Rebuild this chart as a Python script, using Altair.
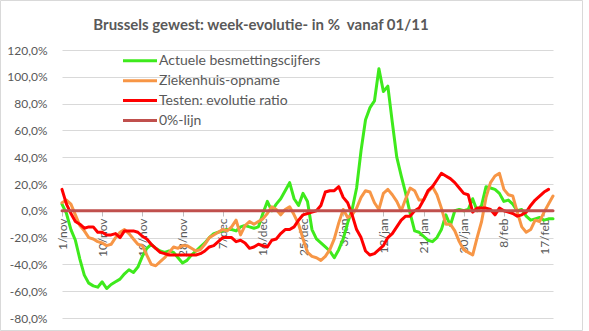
import altair as alt
import pandas as pd

TITLE = "Brussels gewest: week-evolutie- in % \u00a0vanaf 01/11"
series_names = ["Actuele besmettingscijfers", "Ziekenhuis-opname", "Testen: evolutie ratio", "0%-lijn"]
series_colors = ["#3EEA1C", "#F79646", "#FF0000", "#C0504D"]

tick_days = [0, 9, 18, 27, 36, 45, 54, 63, 72, 81, 90, 99, 108]
tick_labels = ["1/nov", "10/nov", "19/nov", "28/nov", "7/dec", "16/dec", "25/dec",
               "3/jan", "12/jan", "21/jan", "30/jan", "8/feb", "17/feb"]
y_ticks = [-80, -60, -40, -20, 0, 20, 40, 60, 80, 100, 120]

green = [5, -2, -14, -22, -36, -48, -54, -56, -57, -53,
         -58, -55, -53, -51, -47, -44, -46, -42, -34, -28,
         -25, -28, -30, -31, -30, -31, -35, -39, -37, -33,
         -30, -27, -24, -20, -17, -16, -15, -14, -14, -15,
         -12, -11, -12, -13, -12, -2, 7, 0, 5, 9,
         15, 21, 9, 4, 13, 7, -14, -21, -24, -27,
         -30, -35, -29, -21, -9, 1, 17, 45, 68, 77,
         82, 106, 89, 93, 66, 40, 26, 13, -2, -15,
         -16, -19, -22, -23, -20, -14, -3, -11, 0, 1,
         0, 1, 9, 0, 4, 18, 17, 16, 13, 7,
         8, 5, 0, 1, -4, -7, -6, -5, -7, -6, -6]

orange = [6, 8, 5, -3, -11, -15, -20, -21, -23, -24,
          -26, -25, -20, -16, -14, -17, -21, -25, -26, -33,
          -40, -41, -38, -35, -31, -27, -28, -26, -26, -28,
          -30, -29, -25, -20, -18, -16, -14, -15, -12, -7,
          -18, -11, -8, -10, -8, -6, -2, 3, 1, -3,
          1, 3, -3, -10, -21, -31, -34, -35, -37, -34,
          -29, -21, -9, 1, -5, -3, 2, 10, 15, 14,
          6, 1, 13, 16, 12, 7, 0, 9, 17, 15,
          8, 8, 14, 18, 12, 2, -10, -10, -15, -23,
          -29, -31, -33, -20, -8, 10, 21, 26, 28, 16,
          12, 11, -1, -12, -16, -14, -7, -8, -1, 5, 11]

red = [16, 5, -2, -8, -10, -13, -12, -12, -16, -16,
       -18, -18, -17, -20, -15, -15, -15, -16, -19, -21,
       -25, -28, -31, -32, -33, -33, -33, -33, -33, -33,
       -33, -32, -30, -27, -26, -23, -20, -20, -20, -23,
       -22, -24, -28, -27, -25, -26, -27, -22, -21, -17,
       -14, -14, -12, -7, -3, -2, -1, 0, 4, 14,
       15, 15, 18, 10, 6, -3, -14, -20, -30, -33,
       -32, -29, -26, -20, -17, -12, -7, -4, -4, 0,
       2, 8, 15, 18, 23, 28, 26, 24, 21, 17,
       13, 12, -1, 2, 2, 2, 1, -3, 2, 0,
       -1, -2, -4, -3, -1, 4, 8, 11, 14, 16]

zero_days = [0, 110]
zero_vals = [0, 0]

FONT = "Lato"
TEXT_COLOR = "#595959"


def series_df(values, days=None):
    if days is None:
        days = list(range(len(values)))
    return pd.DataFrame({"day": days, "value": values})


label_expr_x = ("[" + ",".join(f"'{t}'" for t in tick_labels) + "][indexof(["
                + ",".join(str(d) for d in tick_days) + "], datum.value)]")
label_expr_y = ("(datum.value < 0 ? '-' : '') + replace(format(abs(datum.value), '.1f'), '.', ',') + '%'")

x_enc = alt.X(
    "day:Q",
    title=None,
    scale=alt.Scale(domain=[0, 110], nice=False, zero=False),
    axis=alt.Axis(values=tick_days, labelExpr=label_expr_x, labelAngle=270,
                  labelAlign="right", labelBaseline="middle", labelPadding=2,
                  labelFont=FONT, labelFontSize=12, labelColor=TEXT_COLOR,
                  tickSize=5, tickColor="#bfbfbf", domain=False, grid=False,
                  offset=-107, labelOverlap=False, labelFlush=False),
)
y_enc = alt.Y(
    "value:Q",
    title=None,
    scale=alt.Scale(domain=[-80, 120], nice=False, zero=False),
    axis=alt.Axis(values=y_ticks, labelExpr=label_expr_y, labelFont=FONT,
                  labelFontSize=12, labelColor=TEXT_COLOR, labelPadding=15,
                  ticks=False, domain=False, grid=True, gridColor="#d9d9d9",
                  gridWidth=1, labelOverlap=False, labelFlush=False),
)

line_props = dict(strokeWidth=3, strokeCap="round", strokeJoin="round")

data_layers = []
for vals, days, color in [(green, None, series_colors[0]),
                          (orange, None, series_colors[1]),
                          (red, None, series_colors[2]),
                          (zero_vals, zero_days, series_colors[3])]:
    data_layers.append(
        alt.Chart(series_df(vals, days)).mark_line(color=color, **line_props)
        .encode(x=x_enc, y=y_enc)
    )

border = alt.Chart(pd.DataFrame({"a": [0]})).mark_rect(
    fillOpacity=0, stroke="#d9d9d9", strokeWidth=1
).encode(x=alt.value(-61.5), x2=alt.value(520.5), y=alt.value(-49.5), y2=alt.value(280.5))

title_layer = alt.Chart(pd.DataFrame({"t": [TITLE]})).mark_text(
    font=FONT, fontSize=15, fontWeight="bold", color=TEXT_COLOR,
    align="center", baseline="alphabetic"
).encode(x=alt.value(199), y=alt.value(-20.5), text="t:N")

leg_df = pd.DataFrame({"name": series_names, "row": [0, 1, 2, 3]})
leg_y = alt.Y("row:O", scale=alt.Scale(type="point", range=[10.7, 70.5], padding=0), axis=None)
leg_rules = alt.Chart(leg_df).mark_rule(strokeWidth=3).encode(
    x=alt.value(61), x2=alt.value(95), y=leg_y,
    color=alt.Color("name:N", scale=alt.Scale(domain=series_names, range=series_colors), legend=None),
)
leg_text = alt.Chart(leg_df).mark_text(
    align="left", baseline="middle", font=FONT, fontSize=14, color=TEXT_COLOR
).encode(x=alt.value(97), y=leg_y, text="name:N")

main = alt.layer(border, *data_layers, title_layer)
legend = alt.layer(leg_rules, leg_text)

chart = alt.layer(main, legend).resolve_scale(y="independent", color="independent").properties(
    width=491, height=268,
    padding={"left": 62, "top": 50, "right": 36, "bottom": 13},
    autosize=alt.AutoSizeParams(type="none"),
    background="white",
).configure_view(strokeWidth=0)

chart.save("out.html", embed_options={"renderer": "svg", "actions": False})
